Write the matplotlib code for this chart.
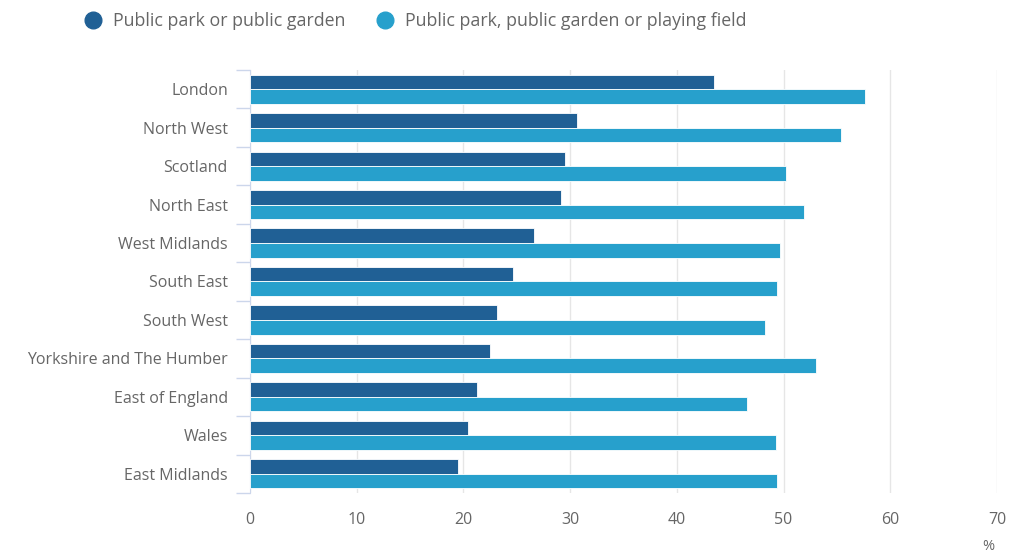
import matplotlib.pyplot as plt
import numpy as np
from matplotlib.lines import Line2D

regions = ['London', 'North West', 'Scotland', 'North East', 'West Midlands',
           'South East', 'South West', 'Yorkshire and The Humber',
           'East of England', 'Wales', 'East Midlands']
park_garden = [43.5, 30.6, 29.5, 29.1, 26.6, 24.6, 23.1, 22.5, 21.3, 20.4, 19.5]
park_garden_field = [57.6, 55.4, 50.2, 51.9, 49.7, 49.4, 48.3, 53.0, 46.6, 49.3, 49.4]
x_ticks = [0, 10, 20, 30, 40, 50, 60, 70]

dark = '#206095'
light = '#27a0cc'
text_col = '#666666'

plt.rcParams['font.family'] = ['Open Sans', 'DejaVu Sans']

fig = plt.figure(figsize=(10.23, 5.55), dpi=100)
ax = fig.add_axes([250 / 1023, 62 / 555, 747 / 1023, 423 / 555])

y = np.arange(len(regions))
h = 0.38
ax.barh(y - h / 2, park_garden, height=h, color=dark, edgecolor='white', linewidth=0.6, zorder=3)
ax.barh(y + h / 2, park_garden_field, height=h, color=light, edgecolor='white', linewidth=0.6, zorder=3)

ax.set_xlim(0, 70)
ax.set_ylim(len(regions) - 0.5, -0.5)
ax.set_xticks(x_ticks)
ax.set_xticklabels([str(t) for t in x_ticks])
ax.set_yticks(y)
ax.set_yticklabels(regions)
ax.tick_params(axis='y', length=0, pad=16, labelsize=11.5, labelcolor=text_col)
ax.tick_params(axis='x', length=0, pad=14, labelsize=11.5, labelcolor=text_col)

# band tick marks on the category axis
ax.set_yticks(np.arange(-0.5, len(regions) + 0.5, 1), minor=True)
ax.tick_params(axis='y', which='minor', length=10, color='#ccd6eb', width=1)

ax.grid(axis='x', color='#e6e6e6', linewidth=1, zorder=0)
for s in ['top', 'right', 'bottom']:
    ax.spines[s].set_visible(False)
ax.spines['left'].set_color('#ccd6eb')

fig.text(988 / 1023, 1 - 547 / 555, '%', ha='center', va='center', fontsize=10.5, color=text_col)

handles = [Line2D([], [], marker='o', linestyle='', markersize=12, color=dark),
           Line2D([], [], marker='o', linestyle='', markersize=12, color=light)]
fig.legend(handles, ['Public park or public garden',
                     'Public park, public garden or playing field'],
           loc='center left', bbox_to_anchor=(84 / 1023, 1 - 21 / 555), ncol=2,
           frameon=False, fontsize=12.8, labelcolor='#666666',
           borderpad=0, borderaxespad=0,
           handletextpad=0.62, columnspacing=1.75, handlelength=1.0)

fig.savefig('out.png', dpi=100)
